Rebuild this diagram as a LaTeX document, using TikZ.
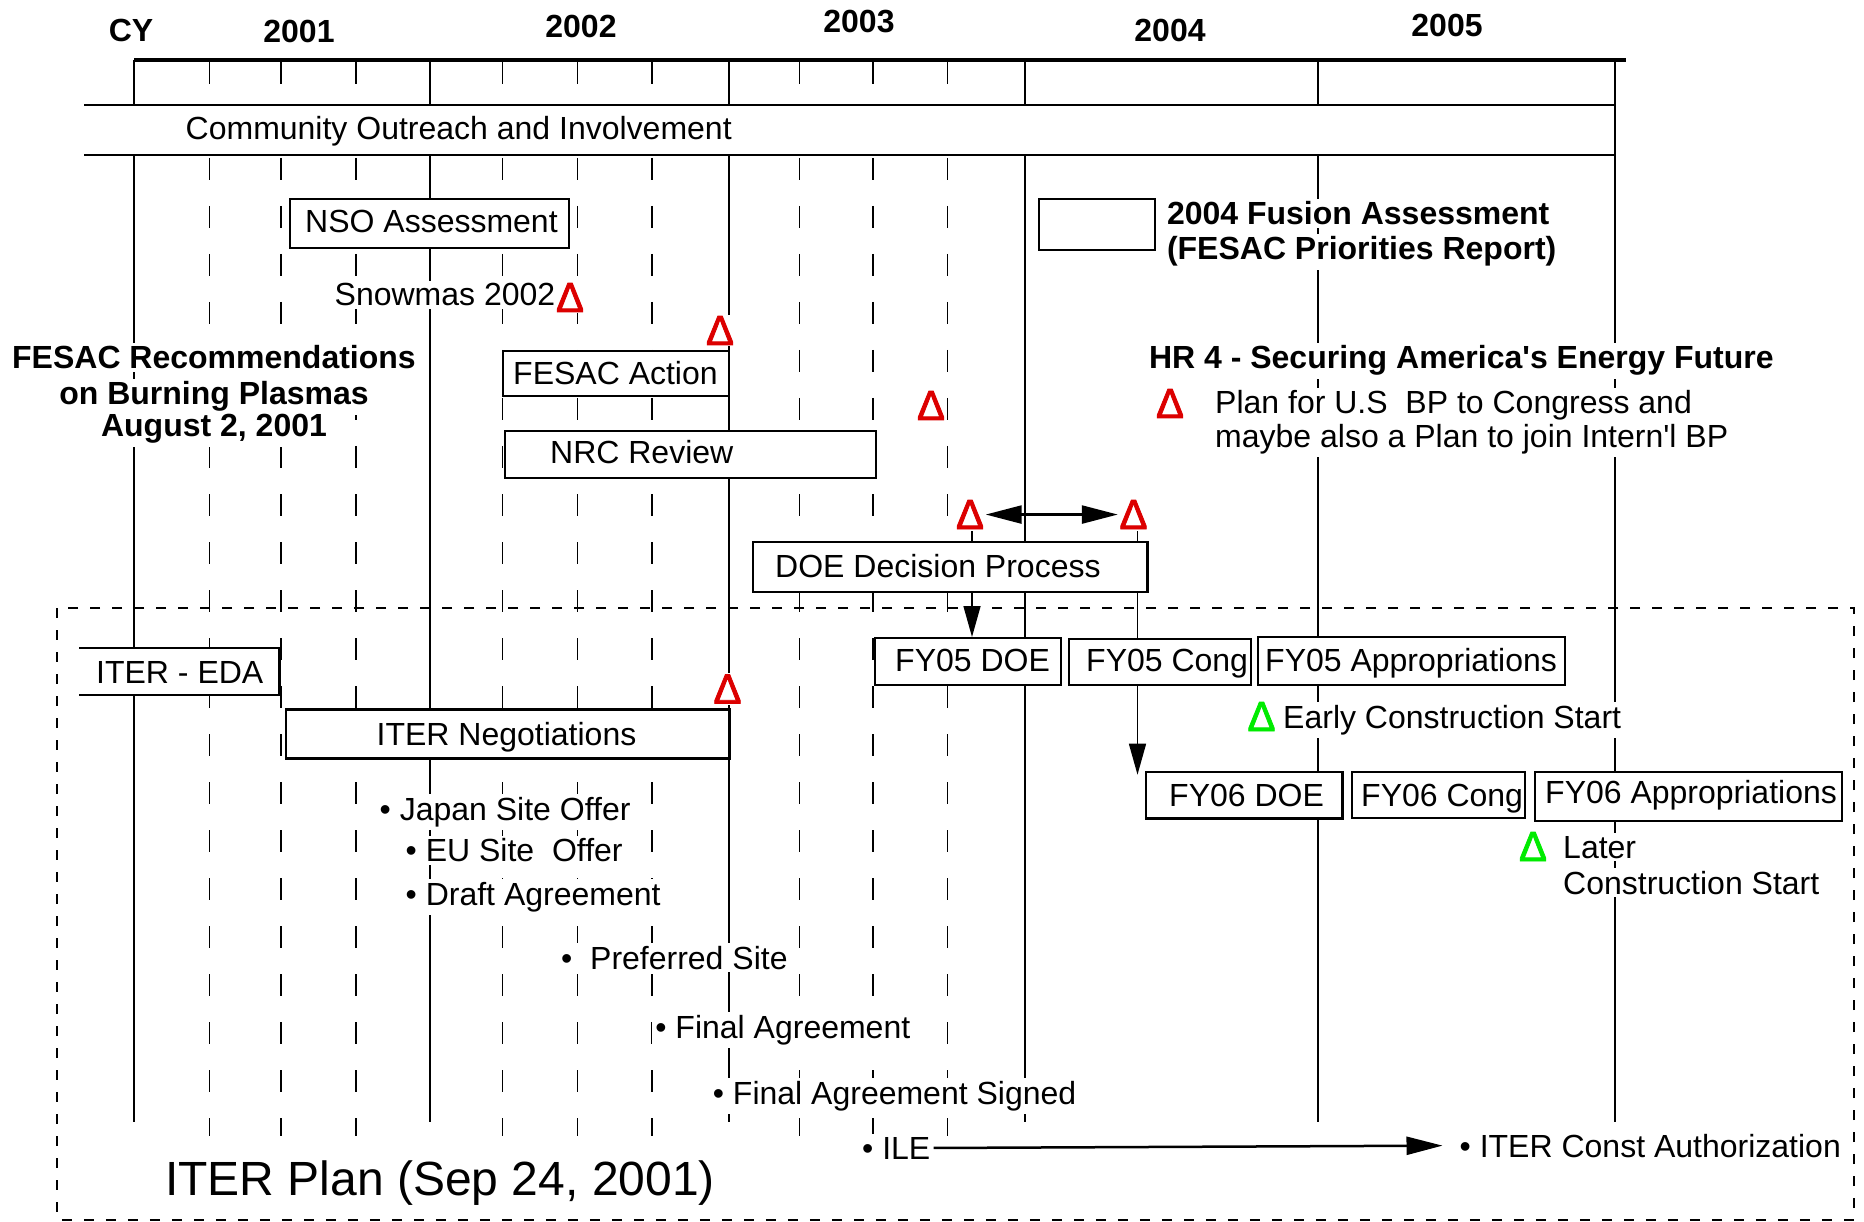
\documentclass[tikz,border=0pt]{standalone}
\usepackage{fontspec}
\setmainfont{Liberation Sans}
\newfontfamily\deltafont[BoldFont=Liberation Sans, BoldFeatures={FakeBold=2}]{Liberation Sans}
\usetikzlibrary{arrows.meta}
\pgfdeclarelayer{bgfill}
\pgfdeclarelayer{conn}
\pgfsetlayers{bgfill,conn,main}
\definecolor{dred}{RGB}{220,0,0}
\definecolor{lgreen}{RGB}{0,235,0}
\begin{document}
\begin{tikzpicture}[x=1pt,y=-1pt,
  reg/.style={font=\fontsize{32}{34}\selectfont},
  bld/.style={font=\fontsize{32}{34}\selectfont\bfseries},
  big/.style={font=\fontsize{48}{50}\selectfont},
  lbl/.style={reg, fill=white, inner sep=3pt, anchor=base west},
  blbl/.style={bld, fill=white, inner sep=3pt, anchor=base west},
  intext/.style={reg, inner sep=0pt, anchor=base west},
  boxn/.style={draw, line width=2.2pt, fill=white, inner sep=0pt, anchor=north west},
  openbox/.style={fill=white, inner sep=0pt, anchor=north west},
  yearline/.style={line width=2pt},
  qline/.style={line width=1.3pt, dash pattern=on 22pt off 26pt},
  yr/.style={bld, inner sep=0pt, anchor=base},
  delta/.style={font=\fontsize{42}{44}\deltafont\bfseries, fill=white, inner sep=1.5pt, anchor=base},
  conline/.style={line width=1.5pt},
  dtip/.style={-{Triangle[length=31pt,width=17pt]}}
]
\useasboundingbox (0,0) rectangle (1864,1222);
\begin{pgfonlayer}{bgfill}
\fill[white] (0,0) rectangle (1864,1222);
\end{pgfonlayer}

% ---- grid ----
\foreach \x in {134.3,430.4,728.8,1025,1318.2,1614.6}
  \draw[yearline] (\x,60) -- (\x,1122);
\foreach \x in {209.5,281,356,502.5,577.5,652,799.2,873,947.5}
  \draw[qline] (\x,62) -- (\x,1136);
\draw[line width=4pt] (134.3,60.5) -- (1626,60.5);
\draw[line width=2pt, dash pattern=on 10pt off 12pt] (57,608.3) rectangle (1854.4,1219.5);

% ---- year labels ----
\node[yr] (cy) at (131,42) {CY};
\node[yr] (y2001) at (299,43) {2001};
\node[yr] (y2002) at (581,38) {2002};
\node[yr] (y2003) at (859,33) {2003};
\node[yr] (y2004) at (1170,42) {2004};
\node[yr] (y2005) at (1447,37) {2005};

% ---- community band ----
\node[openbox, minimum width=1530.6pt, minimum height=50pt] (comm) at (84,105) {};
\draw[line width=2.2pt] (comm.north west) -- (comm.north east) -- (comm.south east) -- (comm.south west);
\node[intext] (commtxt) at (185.5,140) {Community Outreach and Involvement};

% ---- upper boxes ----
\node[boxn, minimum width=279pt, minimum height=49pt] (nso) at (289,198) {};
\node[intext] (nsotxt) at (305,232.7) {NSO Assessment};
\node[lbl] (snow) at (331.5,306) {Snowmas 2002};
\node[delta, text=dred] (dsnow) at (570,312) {Δ};

\node[delta, text=dred] (dfesac) at (720,345) {Δ};
\node[boxn, minimum width=226pt, minimum height=45pt] (fesacact) at (502,350) {};
\node[intext] (fesacacttxt) at (513,385) {FESAC Action};

\node[delta, text=dred] (dnrc) at (931,420) {Δ};
\node[boxn, minimum width=371.4pt, minimum height=47pt] (nrc) at (503.6,430) {};
\node[intext] (nrctxt) at (550,464) {NRC Review};

\node[blbl, anchor=base] (rec1) at (214,369) {FESAC Recommendations};
\node[blbl, anchor=base] (rec2) at (214,405) {on Burning Plasmas};
\node[blbl, anchor=base] (rec3) at (214,437) {August 2, 2001};

\node[boxn, minimum width=115.6pt, minimum height=51pt] (fus) at (1038,198) {};
\node[blbl] (fus1) at (1163.8,225) {2004 Fusion Assessment};
\node[blbl] (fus2) at (1163.8,260) {(FESAC Priorities Report)};

\node[blbl] (hr4) at (1145.8,369) {HR 4 - Securing America\textquotesingle s Energy Future};
\node[delta, text=dred] (dhr) at (1170,418) {Δ};
\node[lbl] (plan1) at (1212,414) {Plan for U.S\ \ BP to Congress and};
\node[lbl] (plan2) at (1212,447.3) {maybe also a Plan to join Intern\textquotesingle l BP};

% ---- decision ----
\node[delta, text=dred] (d1) at (970,529) {Δ};
\node[delta, text=dred] (d2) at (1133.5,529) {Δ};
\node[boxn, minimum width=394.4pt, minimum height=49.7pt] (doe) at (752,541) {};
\node[intext] (doetxt) at (775,577) {DOE Decision Process};

% ---- ITER plan area ----
\node[openbox, minimum width=200pt, minimum height=46pt] (eda) at (79,648.3) {};
\draw[line width=2.2pt] (eda.north west) -- (eda.north east) -- (eda.south east) -- (eda.south west);
\node[intext] (edatxt) at (96,683) {ITER - EDA};

\node[delta, text=dred] (diter) at (727.5,703.5) {Δ};
\node[boxn, minimum width=443.6pt, minimum height=49pt] (iterneg) at (284.8,708.3) {};
\node[intext] (itertxt) at (376.5,745) {ITER Negotiations};

\node[boxn, minimum width=186.2pt, minimum height=47pt] (fy05doe) at (873.5,637) {};
\node[intext] (fy05doetxt) at (895,671.7) {FY05 DOE};
\node[boxn, minimum width=182pt, minimum height=46pt] (fy05cong) at (1068,638) {};
\node[intext] (fy05congtxt) at (1086,671.7) {FY05 Cong};
\node[boxn, minimum width=307pt, minimum height=48pt] (fy05app) at (1257,636) {};
\node[intext] (fy05apptxt) at (1265,671.7) {FY05 Appropriations};

\node[delta, text=lgreen] (dearly) at (1261.5,731) {Δ};
\node[lbl] (early) at (1280,728) {Early Construction Start};

\node[boxn, minimum width=196.8pt, minimum height=46.6pt] (fy06doe) at (1144.6,770.7) {};
\node[intext] (fy06doetxt) at (1169,806) {FY06 DOE};
\node[boxn, minimum width=173.4pt, minimum height=46pt] (fy06cong) at (1350.5,770.7) {};
\node[intext] (fy06congtxt) at (1361,806) {FY06 Cong};
\node[boxn, minimum width=307pt, minimum height=49.3pt] (fy06app) at (1534,770.7) {};
\node[intext] (fy06apptxt) at (1545,803) {FY06 Appropriations};

\node[delta, text=lgreen] (dlater) at (1533,861) {Δ};
\node[lbl] (later1) at (1560,858) {Later};
\node[lbl] (later2) at (1560,894) {Construction Start};

\node[lbl] (japan) at (376.5,820) {• Japan Site Offer};
\node[lbl] (eu) at (402.5,861.7) {• EU Site\ \ Offer};
\node[lbl] (draft) at (402.5,905) {• Draft Agreement};
\node[lbl] (pref) at (558,969) {•\ \ Preferred Site};
\node[lbl] (final) at (652.2,1038) {• Final Agreement};
\node[lbl] (signed) at (709.7,1104) {• Final Agreement Signed};
\node[lbl] (ile) at (859,1159) {• ILE};
\node[lbl] (itc) at (1456.5,1157) {• ITER Const Authorization};
\node[big, fill=white, inner sep=3pt, anchor=base west] (plan) at (162,1195) {ITER Plan (Sep 24, 2001)};

% ---- connectors ----
\begin{pgfonlayer}{conn}
\draw[line width=2.5pt, {Triangle[length=36pt,width=18pt]}-{Triangle[length=36pt,width=18pt]}] (d1.east) -- (d2.west);
\draw[conline, dtip] ([xshift=2pt]d1.south) -- ([xshift=2pt]d1.south |- fy05doe.north);
\draw[conline, dtip] ([xshift=4pt]d2.south) -- ([xshift=4pt,yshift=-4pt]d2.south |- fy06doe.north);
\draw[line width=2.5pt, -{Triangle[length=36pt,width=18pt]}, shorten >=14pt] (ile.east) -- (itc.west);
\end{pgfonlayer}
\end{tikzpicture}
\end{document}
